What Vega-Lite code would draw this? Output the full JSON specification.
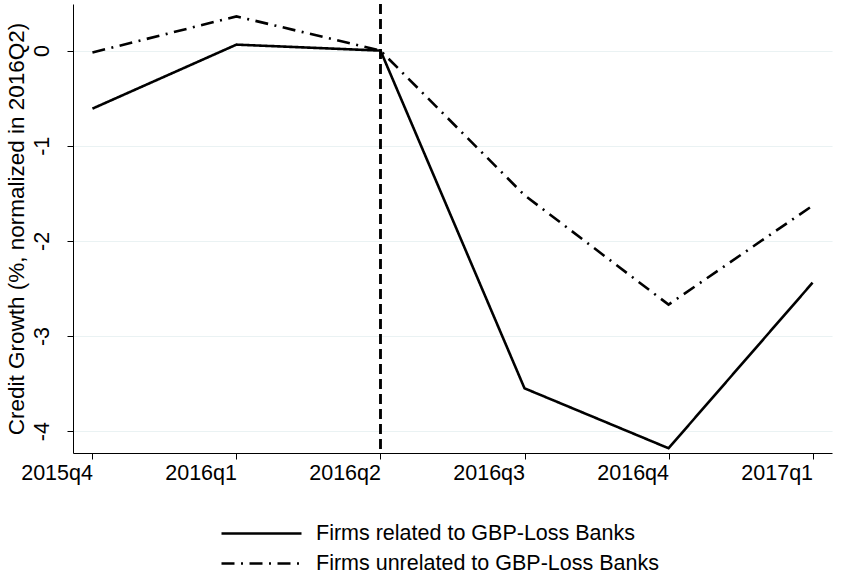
{
  "$schema": "https://vega.github.io/schema/vega-lite/v6.json",
  "width": 759,
  "height": 449,
  "autosize": {"type": "none"},
  "padding": {"left": 73, "top": 4, "right": 17, "bottom": 126},
  "background": "white",
  "config": {"view": {"stroke": null}, "font": "Liberation Sans"},
  "data": {
    "values": [
      {"quarter": "2015q4", "series": "Firms related to GBP-Loss Banks", "growth": -0.61},
      {"quarter": "2016q1", "series": "Firms related to GBP-Loss Banks", "growth": 0.063},
      {"quarter": "2016q2", "series": "Firms related to GBP-Loss Banks", "growth": 0},
      {"quarter": "2016q3", "series": "Firms related to GBP-Loss Banks", "growth": -3.55},
      {"quarter": "2016q4", "series": "Firms related to GBP-Loss Banks", "growth": -4.18},
      {"quarter": "2017q1", "series": "Firms related to GBP-Loss Banks", "growth": -2.44},
      {"quarter": "2015q4", "series": "Firms unrelated to GBP-Loss Banks", "growth": -0.02},
      {"quarter": "2016q1", "series": "Firms unrelated to GBP-Loss Banks", "growth": 0.36},
      {"quarter": "2016q2", "series": "Firms unrelated to GBP-Loss Banks", "growth": 0},
      {"quarter": "2016q3", "series": "Firms unrelated to GBP-Loss Banks", "growth": -1.52},
      {"quarter": "2016q4", "series": "Firms unrelated to GBP-Loss Banks", "growth": -2.67},
      {"quarter": "2017q1", "series": "Firms unrelated to GBP-Loss Banks", "growth": -1.63}
    ]
  },
  "layer": [
    {
      "mark": {"type": "rule", "color": "black", "strokeWidth": 1.4, "strokeDash": [10, 5]},
      "encoding": {
        "x": {"datum": "2016q2", "type": "ordinal"}
      }
    },
    {
      "mark": {"type": "line", "color": "black", "strokeWidth": 2.6},
      "encoding": {
        "x": {
          "field": "quarter",
          "type": "ordinal",
          "sort": null,
          "scale": {"type": "point", "padding": 0.135, "domain": ["2015q4", "2016q1", "2016q2", "2016q3", "2016q4", "2017q1"]},
          "axis": {
            "title": null,
            "labelAngle": 0,
            "labelFontSize": 21.5,
            "labelColor": "black",
            "labelPadding": 14,
            "tickSize": 6,
            "tickColor": "black",
            "domainColor": "black",
            "grid": false
          }
        },
        "y": {
          "field": "growth",
          "type": "quantitative",
          "scale": {"domain": [-4.23, 0.49], "nice": false, "zero": false},
          "axis": {
            "title": "Credit Growth (%, normalized in 2016Q2)",
            "titleFontSize": 22.5,
            "titleFontWeight": "normal",
            "titleColor": "black",
            "titlePadding": 3,
            "values": [0, -1, -2, -3, -4],
            "labelExpr": "'' + datum.value",
            "labelAngle": 270,
            "labelFontSize": 21.5,
            "labelColor": "black",
            "labelPadding": 14,
            "tickSize": 6,
            "tickColor": "black",
            "domainColor": "black",
            "grid": true,
            "gridColor": "#eaf2f3",
            "gridWidth": 1.2
          }
        },
        "strokeDash": {
          "field": "series",
          "type": "nominal",
          "scale": {
            "domain": ["Firms related to GBP-Loss Banks", "Firms unrelated to GBP-Loss Banks"],
            "range": [[1, 0], [13, 6.5, 2, 6.5]]
          },
          "legend": {
            "title": null,
            "orient": "none",
            "legendX": 177,
            "legendY": 518,
            "direction": "vertical",
            "symbolType": "M-4,0H4",
            "symbolSize": 400,
            "symbolStrokeWidth": 2.6,
            "symbolStrokeColor": "black",
            "symbolFillColor": "transparent",
            "labelFontSize": 21.5,
            "labelColor": "black",
            "labelOffset": 43,
            "rowPadding": 8,
            "labelLimit": 500
          }
        }
      }
    }
  ]
}
